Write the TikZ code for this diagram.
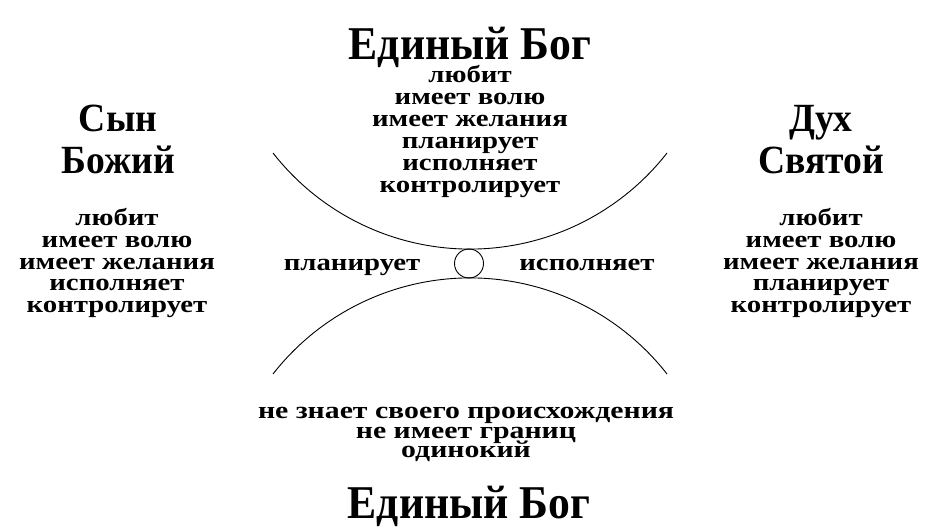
\documentclass[tikz,border=0pt]{standalone}
\usepackage{fontspec}
\setmainfont{Liberation Serif}
\newfontfamily\headfont[FakeStretch=0.93]{Liberation Serif}
\newfontfamily\subheadfont[FakeStretch=0.94]{Liberation Serif}
\newfontfamily\itemfont[FakeStretch=1.2]{Liberation Serif}
\newfontfamily\lowfont[FakeStretch=1.24]{Liberation Serif}
\usepackage{tikz}
\usetikzlibrary{positioning}

\begin{document}
\begin{tikzpicture}
	[   x=1pt,y=1pt,
		head/.style={font=\headfont\fontsize{47}{47}\selectfont\bfseries,inner sep=0pt,anchor=base},
		subhead/.style={font=\subheadfont\fontsize{40}{40}\selectfont\bfseries,inner sep=0pt,anchor=base},
		item/.style={font=\itemfont\fontsize{24}{24}\selectfont\bfseries,inner sep=0pt,anchor=base},
		lowitem/.style={font=\lowfont\fontsize{24}{24}\selectfont\bfseries,inner sep=0pt,anchor=base},
	]
	\tikzset{arc line/.style={draw,line width=0.9pt}}
	\useasboundingbox (0,0) rectangle (939,528);
	
	% upper title and its list
	\node[head] (god-top) at (470,468) {Единый Бог};
	\foreach \t [count=\i] in {любит,имеет волю,имеет желания,планирует,исполняет,контролирует}
	{
		\node[item] (top-\i) at (470,{467-22*\i}) {\t};
	}
	
	% left
	\node[subhead] (son-1) at (118,396) {Сын};
	\node[subhead] (son-2) at (118,354) {Божий};
	\foreach \t [count=\i] in {любит,имеет волю,имеет желания,исполняет,контролирует}
	{
		\node[item] (left-\i) at (117,{324-21.7*\i}) {\t};
	}
	
	% right
	\node[subhead] (spirit-1) at (821,396) {Дух};
	\node[subhead] (spirit-2) at (821,354) {Святой};
	\foreach \t [count=\i] in {любит,имеет волю,имеет желания,планирует,контролирует}
	{
		\node[item] (right-\i) at (821,{324-21.7*\i}) {\t};
	}
	
	% middle
	\node[draw,circle,line width=0.9pt,minimum size=29pt,inner sep=0pt] (c) at (469,264.5) {};
	\node[item] (plan) at (352,258) {планирует};
	\node[item] (exec) at (587,258) {исполняет};
	\path[arc line] (273,375) arc[start angle=218,end angle=322,radius=250];
	\path[arc line] (273,154) arc[start angle=142,end angle=38,radius=250];
	
	% lower list and title
	\foreach \t [count=\i] in {не знает своего происхождения,не имеет границ,одинокий}
	{
		\node[lowitem] (bot-\i) at (466,{129-19.5*\i}) {\t};
	}
	\node[head] (god-bot) at (469,10) {Единый Бог};
\end{tikzpicture}
\end{document}
